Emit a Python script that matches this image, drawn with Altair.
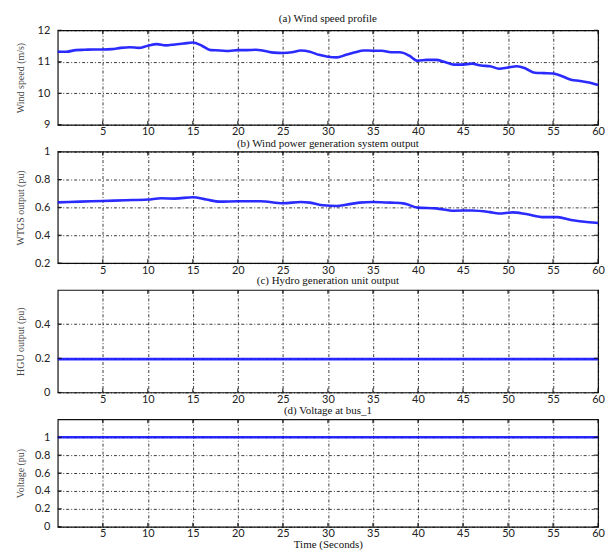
import altair as alt
import pandas as pd

# ---- data ----
t_wind = list(range(61))
wind_speed = [11.32, 11.32, 11.37, 11.38, 11.39, 11.39, 11.40, 11.44, 11.46, 11.44,
              11.51, 11.56, 11.52, 11.55, 11.58, 11.61, 11.51, 11.37, 11.36, 11.34,
              11.37, 11.37, 11.38, 11.34, 11.29, 11.28, 11.30, 11.36, 11.32, 11.22,
              11.16, 11.14, 11.22, 11.30, 11.36, 11.35, 11.35, 11.30, 11.30, 11.20,
              11.03, 11.06, 11.06, 10.99, 10.91, 10.91, 10.94, 10.88, 10.86, 10.78,
              10.82, 10.86, 10.78, 10.65, 10.64, 10.63, 10.54, 10.43, 10.39, 10.34,
              10.26]

t_wtgs = [0, 2.5, 5, 7.5, 10, 11.5, 13, 15, 16.5, 18, 20, 22.5, 25, 27, 28, 29.5,
          31, 32, 33.5, 35, 37, 38.5, 40, 42, 44, 46, 48, 49, 50.5, 52, 54, 55.5,
          57, 59, 60]
wtgs = [0.636, 0.641, 0.646, 0.651, 0.656, 0.665, 0.663, 0.673, 0.656, 0.641,
        0.644, 0.644, 0.629, 0.639, 0.634, 0.615, 0.610, 0.619, 0.634, 0.639,
        0.634, 0.627, 0.598, 0.593, 0.576, 0.578, 0.566, 0.556, 0.564, 0.552,
        0.530, 0.530, 0.510, 0.493, 0.488]

t_hgu = [0, 60]
hgu = [0.195, 0.195]

t_volt = [0, 60]
volt = [1.0, 1.0]

x_ticks = [5, 10, 15, 20, 25, 30, 35, 40, 45, 50, 55, 60]

TITLE_FONT = "Liberation Serif"
LABEL_FONT = "Lato"
BLUE = "#1414ff"
W = 543
TICK = 4


def panel(t, v, title, ytitle, domain, yticks, height, xtitle=None, toff=-3):
    df = pd.DataFrame({"t": t, "v": v})
    xscale = alt.Scale(domain=[0, 60], nice=False)
    yscale = alt.Scale(domain=domain, nice=False, zero=False)
    x_axis = alt.Axis(values=x_ticks, title=xtitle, labelPadding=1,
                      titlePadding=0, titleFontSize=11, titleColor="#111")
    y_axis = alt.Axis(values=yticks, title=ytitle, format="~g")
    line = alt.Chart(df).mark_line(
        color=BLUE, strokeWidth=2.6, interpolate="monotone", opacity=0.9
    ).encode(
        x=alt.X("t:Q", scale=xscale, axis=x_axis),
        y=alt.Y("v:Q", scale=yscale, axis=y_axis),
    )
    xt = pd.DataFrame({"t": x_ticks})
    yt = pd.DataFrame({"v": yticks})
    xbot = alt.Chart(xt).mark_rule(color="#111", strokeWidth=1).encode(
        x=alt.X("t:Q", scale=xscale, axis=x_axis),
        y=alt.value(height - TICK), y2=alt.value(height))
    xtop = alt.Chart(xt).mark_rule(color="#111", strokeWidth=1).encode(
        x=alt.X("t:Q", scale=xscale, axis=x_axis),
        y=alt.value(0), y2=alt.value(TICK))
    yleft = alt.Chart(yt).mark_rule(color="#111", strokeWidth=1).encode(
        y=alt.Y("v:Q", scale=yscale, axis=y_axis),
        x=alt.value(0), x2=alt.value(TICK))
    yright = alt.Chart(yt).mark_rule(color="#111", strokeWidth=1).encode(
        y=alt.Y("v:Q", scale=yscale, axis=y_axis),
        x=alt.value(W - TICK), x2=alt.value(W))
    return alt.layer(line, xbot, xtop, yleft, yright).properties(
        width=W, height=height,
        title=alt.TitleParams(title, fontSize=11, font=TITLE_FONT,
                              fontWeight="normal", offset=toff, color="#111"),
    )


pa = panel(t_wind, wind_speed, "(a) Wind speed profile", "Wind speed (m/s)",
           [9, 12], [9, 10, 11, 12], 95, toff=0)
pb = panel(t_wtgs, wtgs, "(b) Wind power generation system output",
           "WTGS output (pu)", [0.2, 1.0], [0.2, 0.4, 0.6, 0.8, 1.0], 112,
           toff=-3)
pc = panel(t_hgu, hgu, "(c) Hydro generation unit output", "HGU output (pu)",
           [0, 0.6], [0, 0.2, 0.4], 103, toff=3)
pd_ = panel(t_volt, volt, "(d) Voltage at bus_1", "Voltage (pu)",
            [0, 1.2], [0, 0.2, 0.4, 0.6, 0.8, 1.0], 108,
            xtitle="Time (Seconds)", toff=3)

chart = alt.vconcat(pa, pb, pc, pd_, spacing=27, bounds="flush").properties(
    padding={"left": 7, "top": 3, "right": 0, "bottom": 0}
).configure_view(
    stroke="#111", strokeWidth=1.2
).configure_axis(
    domain=False, ticks=False,
    grid=True, gridColor="#000", gridDash=[3, 2, 1, 2], gridWidth=0.9,
    gridOpacity=0.85,
    labelFont=LABEL_FONT, labelFontSize=11, labelColor="#222",
    titleFont=TITLE_FONT, titleFontSize=10, titleFontWeight="normal",
    titleColor="#444",
).configure_axisY(
    labelPadding=8, minExtent=26, maxExtent=26, titlePadding=6,
).configure_axisX(
    labelFlush=False,
)

chart.save("out.html", embed_options={"renderer": "svg", "actions": False})
